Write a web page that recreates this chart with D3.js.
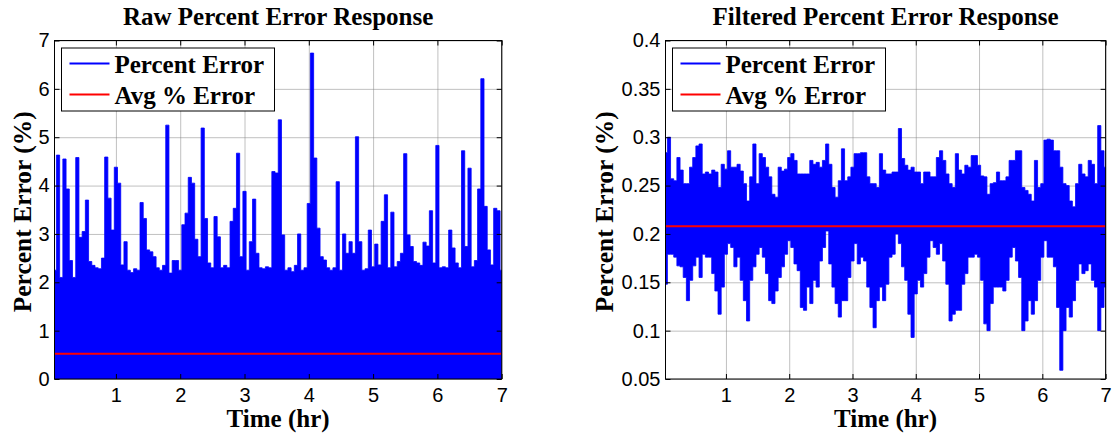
<!DOCTYPE html>
<html>
<head>
<meta charset="utf-8">
<script src="https://cdn.jsdelivr.net/npm/d3@7"></script>
<style>
  html, body { margin: 0; padding: 0; background: #fff; }
  svg { display: block; }
</style>
</head>
<body>
<div id="chart"></div>
<script>
// sampled envelope of the recorded error, one value every sampleStep hours
const sampleStart = 0.05
const sampleStep = 0.05
const xStart = 0.045
const xEnd = 7

const xTicks = [1, 2, 3, 4, 5, 6, 7]
const rawTicksY = [0, 1, 2, 3, 4, 5, 6, 7]
const filtTicksY = [0.05, 0.1, 0.15, 0.2, 0.25, 0.3, 0.35, 0.4]

const titles = ["Raw Percent Error Response", "Filtered Percent Error Response"]
const legendLabels = ["Percent Error", "Avg % Error"]
const xLabel = "Time (hr)"
const yLabel = "Percent Error (%)"

// raw: peak of each sample window, the signal reaches ~0 everywhere
const rawPeak = [
  2.25, 4.63, 2.1, 4.55, 3.93, 2.45, 2.1, 4.58, 2.93, 3.05,
  3.7, 2.43, 2.35, 2.3, 2.28, 2.5, 4.59, 3.74, 3.08, 4.38,
  4.05, 2.36, 2.84, 2.25, 2.2, 2.28, 2.25, 3.65, 3.32, 2.67,
  2.63, 2.53, 2.3, 2.25, 2.35, 5.25, 2.19, 2.45, 2.45, 2.25,
  3.19, 3.43, 4.17, 4.05, 2.89, 2.53, 5.19, 3.32, 2.4, 2.3,
  3.36, 2.94, 2.3, 2.35, 2.3, 3.26, 3.53, 4.67, 2.53, 3.88,
  2.25, 2.84, 3.72, 2.6, 2.3, 2.28, 2.32, 2.3, 4.29, 4.26,
  5.36, 2.98, 2.25, 2.3, 2.22, 2.35, 3.0, 2.25, 2.3, 3.63,
  6.74, 4.57, 3.12, 2.53, 2.46, 2.3, 2.25, 2.3, 4.08, 2.25,
  3.0, 2.6, 2.84, 2.6, 5.01, 2.84, 2.25, 2.28, 3.08, 2.32,
  2.79, 2.36, 3.26, 3.81, 2.3, 3.45, 2.32, 2.43, 2.6, 4.66,
  2.98, 2.74, 2.43, 2.4, 2.35, 2.83, 2.75, 3.48, 2.4, 4.83,
  2.3, 2.32, 2.3, 3.08, 2.71, 2.4, 2.3, 4.72, 2.74, 4.36,
  2.32, 2.45, 3.93, 6.21, 3.57, 2.67, 2.36, 3.53, 3.48, 2.25
]
const rawFloor = 0
const rawAvg = 0.52

// filtered: upper and lower edge of each sample window
const filtHigh = [
  0.284, 0.300, 0.257, 0.255, 0.279, 0.266, 0.252, 0.252, 0.269, 0.279,
  0.291, 0.293, 0.262, 0.264, 0.262, 0.266, 0.264, 0.248, 0.272, 0.267,
  0.286, 0.269, 0.269, 0.272, 0.265, 0.252, 0.234, 0.259, 0.293, 0.252,
  0.283, 0.279, 0.269, 0.259, 0.241, 0.238, 0.269, 0.265, 0.267, 0.279,
  0.283, 0.276, 0.262, 0.262, 0.262, 0.262, 0.276, 0.272, 0.274, 0.269,
  0.276, 0.293, 0.272, 0.248, 0.238, 0.255, 0.288, 0.255, 0.259, 0.269,
  0.283, 0.283, 0.284, 0.284, 0.259, 0.252, 0.252, 0.248, 0.283, 0.266,
  0.262, 0.262, 0.264, 0.264, 0.309, 0.278, 0.271, 0.266, 0.269, 0.264,
  0.264, 0.252, 0.264, 0.264, 0.259, 0.259, 0.279, 0.286, 0.276, 0.262,
  0.252, 0.248, 0.283, 0.266, 0.262, 0.271, 0.269, 0.281, 0.281, 0.271,
  0.260, 0.259, 0.241, 0.252, 0.253, 0.264, 0.255, 0.255, 0.259, 0.276,
  0.276, 0.286, 0.286, 0.248, 0.245, 0.241, 0.234, 0.276, 0.248, 0.252,
  0.297, 0.298, 0.297, 0.286, 0.286, 0.269, 0.252, 0.250, 0.234, 0.228,
  0.252, 0.272, 0.262, 0.259, 0.276, 0.272, 0.252, 0.312, 0.286, 0.269
]
const filtLow = [
  0.148, 0.179, 0.179, 0.176, 0.167, 0.166, 0.155, 0.131, 0.152, 0.167,
  0.176, 0.155, 0.179, 0.176, 0.176, 0.159, 0.141, 0.117, 0.145, 0.179,
  0.190, 0.186, 0.166, 0.176, 0.152, 0.131, 0.110, 0.152, 0.166, 0.179,
  0.186, 0.176, 0.159, 0.131, 0.128, 0.141, 0.155, 0.166, 0.179, 0.193,
  0.186, 0.169, 0.162, 0.124, 0.121, 0.145, 0.128, 0.152, 0.145, 0.172,
  0.186, 0.203, 0.169, 0.145, 0.128, 0.114, 0.131, 0.131, 0.155, 0.172,
  0.190, 0.169, 0.176, 0.172, 0.145, 0.124, 0.103, 0.131, 0.145, 0.131,
  0.148, 0.176, 0.179, 0.200, 0.190, 0.166, 0.152, 0.117, 0.093, 0.138,
  0.152, 0.145, 0.159, 0.176, 0.193, 0.186, 0.179, 0.190, 0.172, 0.148,
  0.110, 0.117, 0.121, 0.121, 0.148, 0.159, 0.176, 0.176, 0.179, 0.176,
  0.152, 0.107, 0.100, 0.128, 0.145, 0.145, 0.145, 0.141, 0.152, 0.176,
  0.186, 0.172, 0.155, 0.100, 0.110, 0.131, 0.117, 0.131, 0.152, 0.176,
  0.193, 0.176, 0.176, 0.166, 0.124, 0.059, 0.100, 0.124, 0.114, 0.131,
  0.152, 0.169, 0.159, 0.162, 0.169, 0.152, 0.145, 0.100, 0.124, 0.145
]
const filtAvg = 0.208

const width = 1112
const height = 438
const serif = "'Liberation Serif', 'Times New Roman', serif"
const sans = "'Liberation Sans', Arial, sans-serif"

const svg = d3.select("#chart")
  .append("svg")
  .attr("width", width)
  .attr("height", height)
  .style("background", "#fff")

svg.append("rect").attr("width", width).attr("height", height).attr("fill", "#fff")

function drawPanel(p) {
  const top = 40.5, bottom = 379
  const g = svg.append("g")

  const x = d3.scaleLinear().domain([xStart, xEnd]).range([p.left, p.right])
  const y = d3.scaleLinear().domain([p.yTicks[0], p.yTicks[p.yTicks.length - 1]]).range([bottom, top])

  // grid (dotted, under the data)
  const gx = g.append("g")
    .attr("transform", `translate(0,${top})`)
    .call(d3.axisTop(x).tickValues(xTicks).tickSize(-(bottom - top)).tickFormat(""))
  const gy = g.append("g")
    .attr("transform", `translate(${p.left},0)`)
    .call(d3.axisLeft(y).tickValues(p.yTicks).tickSize(-(p.right - p.left)).tickFormat(""))
  for (const grid of [gx, gy]) {
    grid.select(".domain").remove()
    grid.selectAll("line")
      .attr("stroke", "#808080")
      .attr("stroke-width", 1)
      .attr("stroke-dasharray", "1,1")
  }

  const clipId = "clip-" + p.id
  svg.append("clipPath").attr("id", clipId)
    .append("rect")
    .attr("x", p.left).attr("y", top)
    .attr("width", p.right - p.left).attr("height", bottom - top)

  const tAt = i => sampleStart + i * sampleStep
  const area = d3.area()
    .x((d, i) => x(tAt(i)))
    .y0((d, i) => y(p.low(i)))
    .y1(d => y(d))
    .curve(d3.curveStep)

  const data = g.append("g").attr("clip-path", `url(#${clipId})`)
  data.append("path")
    .datum(p.high)
    .attr("d", area)
    .attr("fill", "#0000ff")
    .attr("stroke", "#0000ff")
    .attr("stroke-width", 0.8)

  data.append("path")
    .datum([xStart, xEnd])
    .attr("d", d3.line().x(d => x(d)).y(() => y(p.avg)))
    .attr("stroke", "#ff0000")
    .attr("stroke-width", 2)
    .attr("fill", "none")

  // axes box with inward ticks on all sides
  const tick = 5
  const axB = g.append("g").attr("transform", `translate(0,${bottom})`)
    .call(d3.axisBottom(x).tickValues(xTicks).tickSizeInner(-tick).tickSizeOuter(0).tickPadding(9).tickFormat(d3.format("d")))
  const axT = g.append("g").attr("transform", `translate(0,${top})`)
    .call(d3.axisTop(x).tickValues(xTicks).tickSizeInner(-tick).tickSizeOuter(0).tickFormat(""))
  const axL = g.append("g").attr("transform", `translate(${p.left},0)`)
    .call(d3.axisLeft(y).tickValues(p.yTicks).tickSizeInner(-tick).tickSizeOuter(0).tickPadding(5).tickFormat(p.fmt))
  const axR = g.append("g").attr("transform", `translate(${p.right},0)`)
    .call(d3.axisRight(y).tickValues(p.yTicks).tickSizeInner(-tick).tickSizeOuter(0).tickFormat(""))
  for (const ax of [axB, axT, axL, axR]) {
    ax.select(".domain").remove()
    ax.selectAll("line").attr("stroke", "#000")
    ax.selectAll("text")
      .attr("fill", "#000")
      .style("font-family", sans)
      .style("font-size", "20px")
  }

  g.append("rect")
    .attr("x", p.left).attr("y", top)
    .attr("width", p.right - p.left).attr("height", bottom - top)
    .attr("fill", "none")
    .attr("stroke", "#000")
    .attr("stroke-width", 1)

  // title and axis labels
  g.append("text")
    .attr("x", (p.left + p.right) / 2).attr("y", 25)
    .attr("text-anchor", "middle")
    .style("font-family", serif).style("font-weight", "bold").style("font-size", "25px")
    .text(p.title)

  g.append("text")
    .attr("x", (p.left + p.right) / 2).attr("y", 427)
    .attr("text-anchor", "middle")
    .style("font-family", serif).style("font-weight", "bold").style("font-size", "25px")
    .text(xLabel)

  g.append("text")
    .attr("transform", `translate(${p.yLabelX},${(top + bottom) / 2 + 2}) rotate(-90)`)
    .attr("text-anchor", "middle")
    .style("font-family", serif).style("font-weight", "bold").style("font-size", "25.5px")
    .text(yLabel)

  // legend
  const lx = p.left + 7, ly = 48
  const lg = g.append("g").attr("transform", `translate(${lx},${ly})`)
  lg.append("rect")
    .attr("width", 213).attr("height", 63)
    .attr("fill", "#fff").attr("stroke", "#000").attr("stroke-width", 1)
  const colors = ["#0000ff", "#ff0000"]
  legendLabels.forEach((label, i) => {
    const cy = 15.5 + i * 31
    lg.append("line")
      .attr("x1", 8).attr("x2", 48).attr("y1", cy).attr("y2", cy)
      .attr("stroke", colors[i]).attr("stroke-width", 2)
    lg.append("text")
      .attr("x", 53).attr("y", cy + 9)
      .style("font-family", serif).style("font-weight", "bold").style("font-size", "25px")
      .text(label)
  })
}

drawPanel({
  id: "raw",
  left: 54.5, right: 501.7,
  yTicks: rawTicksY,
  fmt: d3.format("d"),
  high: rawPeak,
  low: () => rawFloor,
  avg: rawAvg,
  title: titles[0],
  yLabelX: 31
})

drawPanel({
  id: "filt",
  left: 665.5, right: 1105.6,
  yTicks: filtTicksY,
  fmt: d => String(+d.toFixed(2)),
  high: filtHigh,
  low: i => filtLow[i],
  avg: filtAvg,
  title: titles[1],
  yLabelX: 613
})
</script>
</body>
</html>
